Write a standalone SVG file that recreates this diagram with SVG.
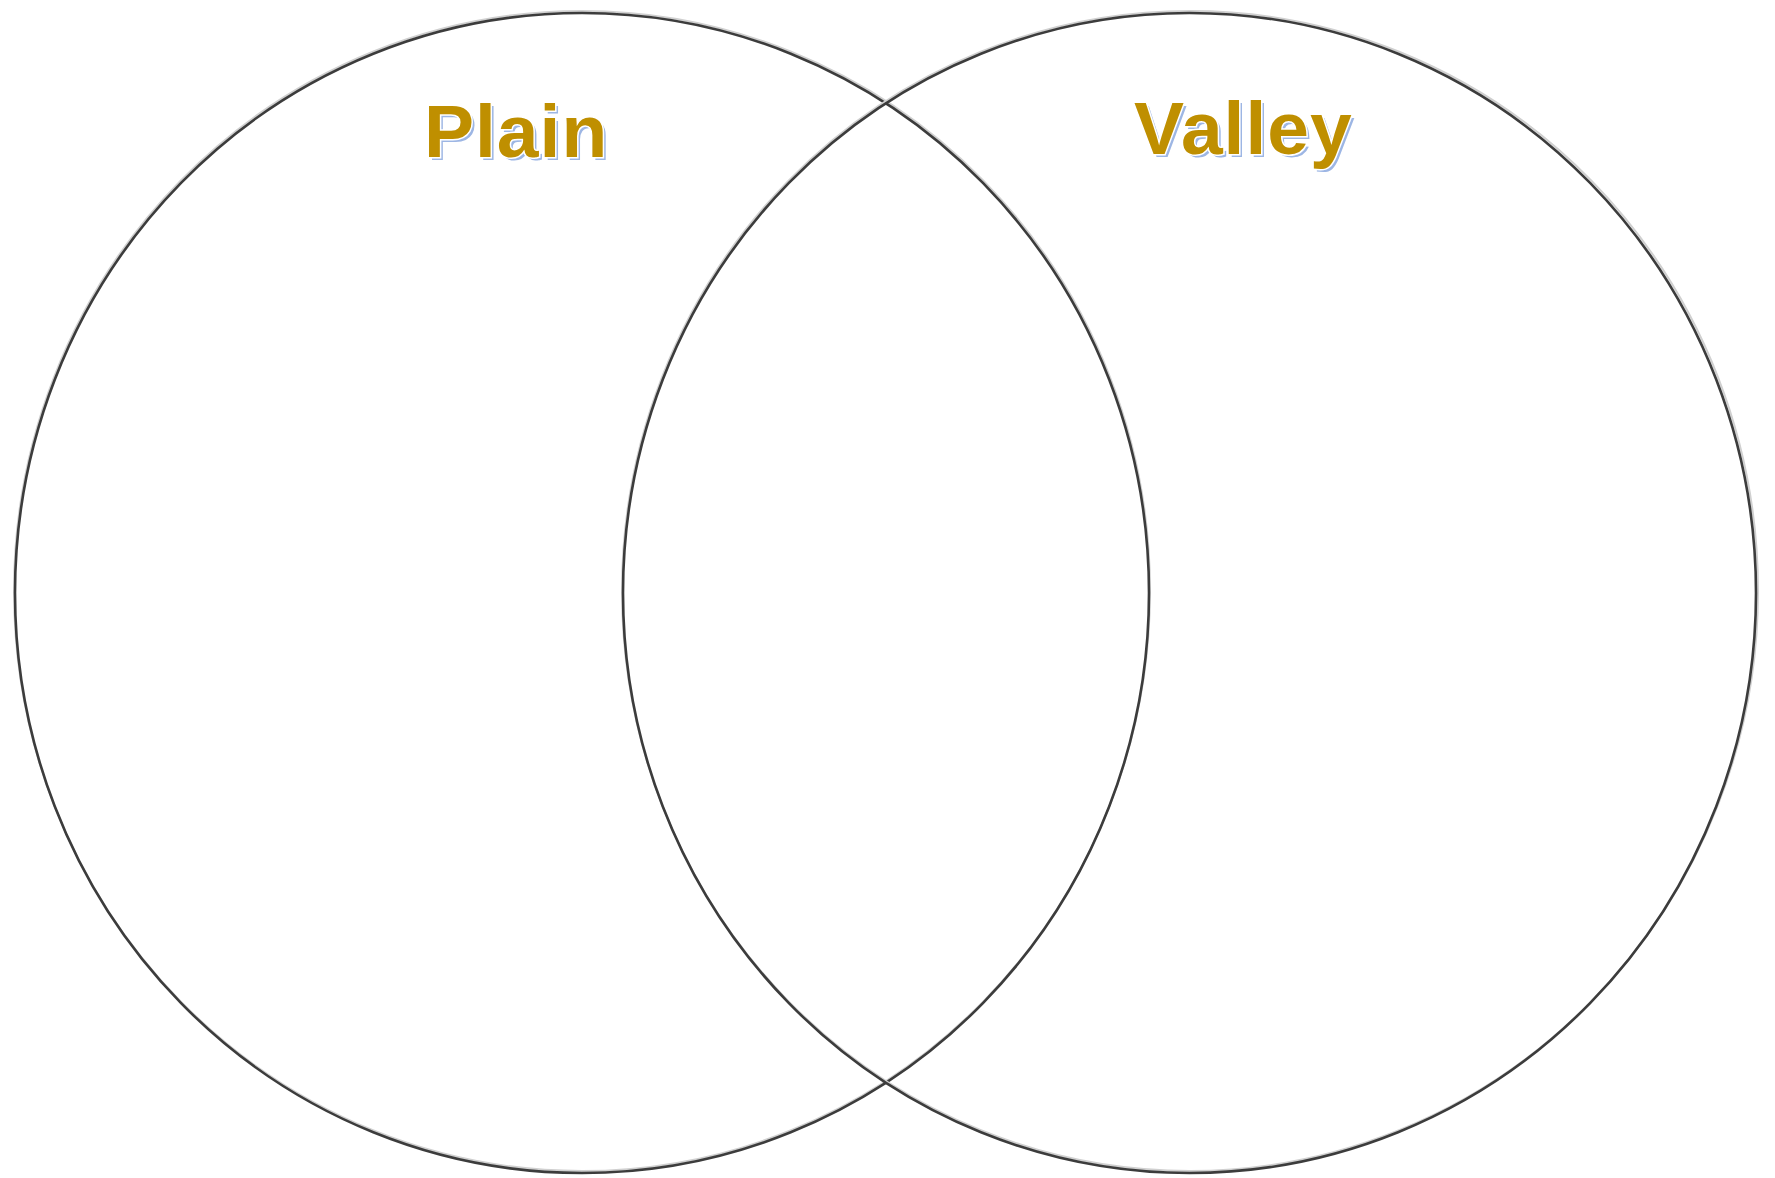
<svg xmlns="http://www.w3.org/2000/svg" width="1775" height="1178" viewBox="0 0 1775 1178">
<style>
.ring{fill:none;stroke:#3c3c3c;stroke-width:2.6}
.halo{fill:none;stroke:#d0d0d0;stroke-width:2}
.lbl{font-family:"Liberation Sans",Arial,sans-serif;font-weight:bold;font-size:75px;letter-spacing:1px}
.sh{fill:#9db6e4}
.tx{fill:#bf8f00;stroke:#ffffff;stroke-width:3;paint-order:stroke}
</style>
<rect width="1775" height="1178" fill="#ffffff"/>
<g id="plain">
<ellipse class="halo" cx="582" cy="591" rx="568" ry="580"/>
<ellipse class="ring" cx="582" cy="593" rx="567" ry="580"/>
<text class="lbl sh" x="427" y="160">Plain</text>
<text class="lbl tx" x="424" y="157">Plain</text>
</g>
<g id="valley">
<ellipse class="halo" cx="1190" cy="591" rx="568" ry="580"/>
<ellipse class="ring" cx="1189.5" cy="593" rx="566.5" ry="580"/>
<text class="lbl sh" x="1137" y="157">Valley</text>
<text class="lbl tx" x="1134" y="154">Valley</text>
</g>
<g id="connectors"></g>
</svg>
